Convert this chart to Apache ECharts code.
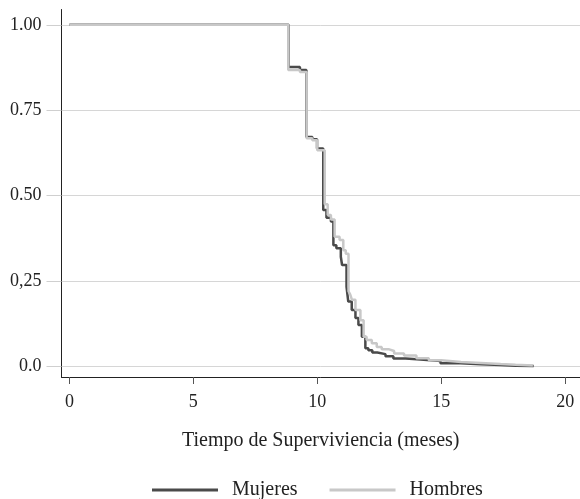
<!DOCTYPE html>
<html lang="es">
<head>
    <meta charset="UTF-8">
    <title>Supervivencia</title>
    <script type="text/javascript" src="https://cdn.jsdelivr.net/npm/echarts@6/dist/echarts.min.js"></script>
    <style>
        html, body { margin: 0; padding: 0; background: #fff; }
    </style>
</head>
<body>
<div id="main" style="width: 580px;height:499px;"></div>
<script type="text/javascript">
    // tiempos (meses) y supervivencia
    var mujeresT = [0, 8.84, 9.3, 9.56, 9.8, 9.99, 10.24, 10.37, 10.55, 10.65, 10.77, 10.95, 11.0, 11.18, 11.25, 11.39,
        11.54, 11.66, 11.8, 11.94, 12.06, 12.22, 12.42, 12.75, 13.07, 13.56, 14.16, 14.97, 15.78, 16.59, 17.4, 18.0, 18.73];
    var mujeresS = [1.0, 0.877, 0.868, 0.672, 0.665, 0.638, 0.458, 0.435, 0.424, 0.355, 0.346, 0.321, 0.297, 0.233, 0.19, 0.165,
        0.142, 0.121, 0.087, 0.053, 0.047, 0.041, 0.036, 0.03, 0.023, 0.02, 0.016, 0.009, 0.006, 0.004, 0.002, 0.001, 0.0];
    var hombresT = [0, 8.83, 9.3, 9.57, 9.8, 10.0, 10.3, 10.42, 10.55, 10.7, 10.9, 11.05, 11.15, 11.26, 11.33, 11.4,
        11.54, 11.74, 11.87, 11.99, 12.2, 12.4, 12.6, 12.9, 13.1, 13.5, 14.0, 14.5, 15.0, 15.8, 16.6, 17.4, 18.0, 18.7];
    var hombresS = [1.0, 0.868, 0.862, 0.668, 0.662, 0.633, 0.475, 0.443, 0.43, 0.38, 0.37, 0.34, 0.33, 0.22, 0.21, 0.195,
        0.165, 0.135, 0.087, 0.077, 0.068, 0.057, 0.05, 0.045, 0.038, 0.032, 0.024, 0.018, 0.013, 0.01, 0.007, 0.005, 0.003, 0.002];
    var xTicks = [0, 5, 10, 15, 20];
    var yTicks = [0, 0.25, 0.5, 0.75, 1];
    var yTickLabels = ['0.0', '0,25', '0.50', '0.75', '1.00'];

    function pares(t, s) {
        var out = [];
        for (var i = 0; i < t.length; i++) {
            out.push([t[i], s[i]]);
        }
        return out;
    }

    var fuente = 'Liberation Serif';
    var myChart = echarts.init(document.getElementById('main'));
    var option = {
        animation: false,
        backgroundColor: '#fff',
        grid: {left: 61.5, right: 0, top: 9.5, bottom: 122, containLabel: false},
        legend: {
            left: 152,
            top: 480,
            padding: 0,
            icon: 'rect',
            itemWidth: 66,
            itemHeight: 3,
            itemGap: 32,
            textStyle: {fontFamily: fuente, fontSize: 20, color: '#222', padding: [0, 0, 0, 9]},
            data: ['Mujeres', 'Hombres']
        },
        xAxis: {
            type: 'value',
            min: -0.32,
            max: 20.6,
            name: 'Tiempo de Superviviencia (meses)',
            nameLocation: 'middle',
            nameGap: 54,
            nameTextStyle: {fontFamily: fuente, fontSize: 20, color: '#222'},
            axisLine: {show: true, onZero: false, lineStyle: {color: '#222', width: 1}},
            axisTick: {show: true, customValues: xTicks, length: 7, lineStyle: {color: '#555'}},
            axisLabel: {customValues: xTicks, margin: 16, fontFamily: fuente, fontSize: 18, color: '#222'},
            splitLine: {show: false}
        },
        yAxis: {
            type: 'value',
            min: -0.031,
            max: 1.045,
            axisLine: {show: true, onZero: false, lineStyle: {color: '#222', width: 1}},
            axisTick: {show: true, customValues: yTicks, length: 15, lineStyle: {color: '#cfcfcf'}},
            axisLabel: {
                customValues: yTicks, margin: 20, fontFamily: fuente, fontSize: 18, color: '#222',
                formatter: function (v) {
                    for (var i = 0; i < yTicks.length; i++) {
                        if (Math.abs(yTicks[i] - v) < 1e-6) return yTickLabels[i];
                    }
                    return '';
                }
            },
            splitLine: {show: true, lineStyle: {color: '#d6d6d6', width: 1}}
        },
        series: [{
            name: 'Mujeres',
            type: 'line',
            step: 'end',
            showSymbol: false,
            symbol: 'none',
            lineStyle: {color: '#4a4a4a', width: 2.5},
            itemStyle: {color: '#4a4a4a'},
            data: pares(mujeresT, mujeresS)
        }, {
            name: 'Hombres',
            type: 'line',
            step: 'end',
            showSymbol: false,
            symbol: 'none',
            lineStyle: {color: '#c8c8c8', width: 2.5},
            itemStyle: {color: '#c8c8c8'},
            data: pares(hombresT, hombresS)
        }]
    };
    myChart.setOption(option);
</script>
</body>
</html>
